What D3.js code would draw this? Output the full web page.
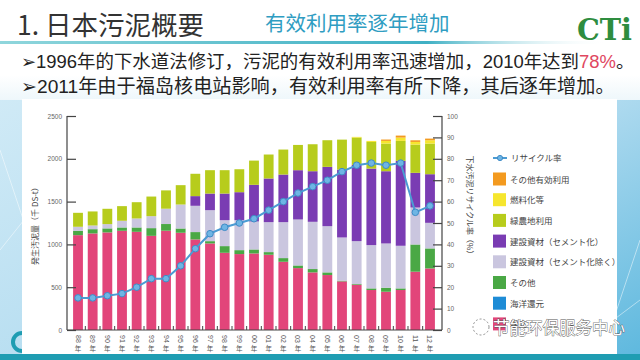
<!DOCTYPE html>
<html>
<head>
<meta charset="utf-8">
<script src="https://cdn.jsdelivr.net/npm/d3@7"></script>
<style>
  body { margin: 0; background: #fff; }
  svg { display: block; font-family: "Noto Sans CJK JP", "Noto Sans", sans-serif; }
</style>
</head>
<body>
<div id="chart"></div>
<script>
// years (bars) and stacked series, thousand DS-t
var years = ["88","89","90","91","92","93","94","95","96","97","98","99","00","01","02","03","04","05","06","07","08","09","10","11","12"];

var landfill    = [1108,1128,1140,1159,1147,1100,1160,1136,1058,1011,902,887,894,879,797,723,673,642,568,529,467,447,467,681,719];
var ocean       = [0,0,0,0,0,0,0,0,0,0,0,0,0,0,0,0,0,0,0,0,0,0,0,0,0];
var otherDisp   = [51,50,47,39,51,90,78,50,86,27,78,46,47,31,43,31,39,31,8,8,19,47,19,318,234];
var buildNoCem  = [47,43,50,78,105,140,179,280,307,362,303,350,327,350,420,537,552,540,505,501,506,517,498,432,299];
var buildCement = [0,0,0,0,0,0,0,0,113,194,311,327,428,510,556,576,591,693,793,891,894,844,992,405,568];
var greenAgri   = [163,164,179,171,190,229,214,226,261,273,273,268,283,280,292,295,315,311,350,319,311,323,233,330,358];
var fuel        = [0,0,0,0,0,0,0,0,0,0,0,0,0,0,0,0,0,0,0,8,12,31,39,31,39];
var otherUse    = [0,0,0,0,0,0,0,0,0,0,0,0,0,0,0,0,0,0,0,0,0,16,23,19,19];

// recycle rate (%)
var recycleRate = [15,15,16,17,20,24,24,30,38,45,48,50,52,56,60,64,67,70,74,77,78,77,78,55,58];

var leftTicks = [0,500,1000,1500,2000,2500];
var rightTicks = [0,10,20,30,40,50,60,70,80,90,100];

var seriesKeys = ["landfill","ocean","otherDisp","buildNoCem","buildCement","greenAgri","fuel","otherUse"];
var seriesData = {landfill:landfill, ocean:ocean, otherDisp:otherDisp, buildNoCem:buildNoCem,
  buildCement:buildCement, greenAgri:greenAgri, fuel:fuel, otherUse:otherUse};
var colors = {landfill:"#e2457a", ocean:"#1e8cd6", otherDisp:"#4aa845", buildNoCem:"#cac6df",
  buildCement:"#7a3cb3", greenAgri:"#b7cc1c", fuel:"#f6e62e", otherUse:"#f39a1f"};

var legendItems = [
  {key:"otherUse", label:"その他有効利用"},
  {key:"fuel", label:"燃料化等"},
  {key:"greenAgri", label:"緑農地利用"},
  {key:"buildCement", label:"建設資材（セメント化）"},
  {key:"buildNoCem", label:"建設資材（セメント化除く）"},
  {key:"otherDisp", label:"その他"},
  {key:"ocean", label:"海洋還元"},
  {key:"landfill", label:"埋立"}
];

var table = years.map(function(y, i) {
  var row = {year: y, rate: recycleRate[i]};
  seriesKeys.forEach(function(k) { row[k] = seriesData[k][i]; });
  return row;
});

var svg = d3.select("#chart").append("svg")
  .attr("width", 640).attr("height", 360);

var defs = svg.append("defs");
var bg = defs.append("linearGradient").attr("id", "bg").attr("x1", 0).attr("y1", 0).attr("x2", 1).attr("y2", 1);
bg.append("stop").attr("offset", "0%").attr("stop-color", "#d8eef8");
bg.append("stop").attr("offset", "60%").attr("stop-color", "#b3dcf0");
bg.append("stop").attr("offset", "100%").attr("stop-color", "#5db8de");
var topLine = defs.append("linearGradient").attr("id", "topline");
topLine.append("stop").attr("offset", "0%").attr("stop-color", "#8fd6dc");
topLine.append("stop").attr("offset", "70%").attr("stop-color", "#3fb0c4");
topLine.append("stop").attr("offset", "100%").attr("stop-color", "#ffffff").attr("stop-opacity", 0);
var topFade = defs.append("linearGradient").attr("id", "topfade").attr("x1", 0).attr("y1", 0).attr("x2", 0).attr("y2", 1);
topFade.append("stop").attr("offset", "0%").attr("stop-color", "#ffffff");
topFade.append("stop").attr("offset", "75%").attr("stop-color", "#ffffff");
topFade.append("stop").attr("offset", "100%").attr("stop-color", "#eef7fb");

// slide background
svg.append("rect").attr("width", 640).attr("height", 360).attr("fill", "url(#bg)");
svg.append("rect").attr("width", 640).attr("height", 100).attr("fill", "url(#topfade)");
[[0,150,70,360],[0,250,40,200],[600,360,640,240],[560,360,640,300]].forEach(function(l) {
  svg.append("line").attr("x1", l[0]).attr("y1", l[1]).attr("x2", l[2]).attr("y2", l[3])
    .attr("stroke", "#ffffff").attr("stroke-opacity", 0.6).attr("stroke-width", 0.8);
});
svg.append("rect").attr("x", 0).attr("y", 354).attr("width", 640).attr("height", 6).attr("fill", "#1f9db2");
svg.append("rect").attr("x", 0).attr("y", 41).attr("width", 610).attr("height", 3).attr("fill", "url(#topline)");
// corner arc of the slide logo, bottom left
svg.append("path").attr("d", "M22,333 A9,9 0 1,0 22,351")
  .attr("fill", "none").attr("stroke", "#1f9db2").attr("stroke-width", 4);

// chart panel
svg.append("rect").attr("x", 22).attr("y", 99).attr("width", 595).attr("height", 255).attr("fill", "#ffffff");

// title
svg.append("text").attr("x", 17).attr("y", 35)
  .style("font-family", "'Noto Sans CJK SC', sans-serif")
  .style("font-size", "26.5px").attr("fill", "#333").text("1. 日本污泥概要");
svg.append("text").attr("x", 265).attr("y", 31)
  .style("font-family", "'Noto Sans CJK SC', sans-serif")
  .style("font-size", "20.5px").attr("fill", "#2f9dc2").text("有效利用率逐年增加");

// logo
svg.append("text").attr("x", 577).attr("y", 40)
  .attr("textLength", 55).attr("lengthAdjust", "spacingAndGlyphs")
  .style("font-family", "'DejaVu Serif', serif").style("font-weight", "bold")
  .style("font-size", "29px").attr("fill", "#2e8d3f").text("CTi");

// bullet lines, sized to the reference widths
function fitWidth(t, w) {
  var len = t.node().getComputedTextLength();
  t.style("font-size", (17 * w / len) + "px");
}
var bulletFont = "'Liberation Sans', 'Noto Sans CJK SC', sans-serif";
var b1 = svg.append("text").attr("x", 21).attr("y", 67.5)
  .style("font-family", bulletFont).style("font-size", "17px").attr("fill", "#222");
b1.append("tspan").text("➢1996年的下水道法修订，污泥的有效利用率迅速增加，2010年达到");
b1.append("tspan").attr("fill", "#e0475f").text("78%");
b1.append("tspan").text("。");
fitWidth(b1, 614);
var b2 = svg.append("text").attr("x", 21).attr("y", 92.5)
  .style("font-family", bulletFont).style("font-size", "17px").attr("fill", "#222")
  .text("➢2011年由于福岛核电站影响，有效利用率有所下降，其后逐年增加。");
fitWidth(b2, 594);

// scales
var x = d3.scaleBand().domain(years).range([70.67, 437.33]).paddingInner(0.33).paddingOuter(0.165);
var y = d3.scaleLinear().domain([0, 2500]).range([330, 116]);
var yr = d3.scaleLinear().domain([0, 100]).range([330, 116]);

var stack = d3.stack().keys(seriesKeys);
var layers = stack(table);

var g = svg.append("g");
g.selectAll("g.layer").data(layers).enter().append("g")
  .attr("fill", function(d) { return colors[d.key]; })
  .selectAll("rect").data(function(d) { return d; }).enter().append("rect")
  .attr("x", function(d) { return x(d.data.year); })
  .attr("width", x.bandwidth())
  .attr("y", function(d) { return y(d[1]); })
  .attr("height", function(d) { return y(d[0]) - y(d[1]); });

// axes
var axisColor = "#444";
var leftAxis = d3.axisLeft(y).tickValues(leftTicks).tickFormat(d3.format("d")).tickSize(-9).tickPadding(5);
var la = svg.append("g").attr("transform", "translate(67,0)").call(leftAxis);
var rightAxis = d3.axisRight(yr).tickValues(rightTicks).tickFormat(d3.format("d")).tickSize(-9).tickPadding(5);
var ra = svg.append("g").attr("transform", "translate(442,0)").call(rightAxis);
[la, ra].forEach(function(a) {
  a.select(".domain").attr("stroke", axisColor).attr("stroke-width", 1.2);
  a.selectAll(".tick line").attr("stroke", axisColor).attr("stroke-width", 1.2);
  a.selectAll(".tick text").attr("fill", "#666").style("font-size", "6.5px").style("font-family", "'Liberation Sans', sans-serif");
});
la.select(".domain").attr("d", "M0,116V330");
ra.select(".domain").attr("d", "M0,116V330");

// bottom axis with boundary ticks
svg.append("line").attr("x1", 67).attr("x2", 442).attr("y1", 330).attr("y2", 330)
  .attr("stroke", axisColor).attr("stroke-width", 1.2);
svg.append("g").selectAll("line").data(years.slice(1)).enter().append("line")
  .attr("x1", function(d) { return x(d) - x.step() * x.paddingInner() / 2; })
  .attr("x2", function(d) { return x(d) - x.step() * x.paddingInner() / 2; })
  .attr("y1", 330).attr("y2", 326)
  .attr("stroke", axisColor).attr("stroke-width", 1);

var xl = svg.append("g").selectAll("g").data(years).enter().append("g")
  .attr("transform", function(d) { return "translate(" + (x(d) + x.bandwidth() / 2) + ",0)"; });
xl.append("text").attr("transform", "translate(-2.5,335) rotate(90)")
  .style("font-family", "'Liberation Sans', sans-serif").style("font-size", "7px").attr("fill", "#555")
  .text(function(d) { return d; });
xl.append("text").attr("y", 351).attr("text-anchor", "middle")
  .style("font-size", "6.5px").attr("fill", "#555").text("年");

// axis titles
svg.append("text").attr("transform", "translate(38,224) rotate(-90)").attr("text-anchor", "middle")
  .style("font-size", "8px").attr("fill", "#444").text("発生汚泥量（千 DS-t）");
svg.append("text").attr("transform", "translate(467,207) rotate(90)").attr("text-anchor", "middle")
  .style("font-size", "8px").attr("fill", "#444").text("下水汚泥リサイクル率（%）");

// recycle rate line
var line = d3.line()
  .x(function(d) { return x(d.year) + x.bandwidth() / 2; })
  .y(function(d) { return yr(d.rate); });
svg.append("path").datum(table).attr("d", line)
  .attr("fill", "none").attr("stroke", "#4b9bd3").attr("stroke-width", 2);
svg.append("g").selectAll("circle").data(table).enter().append("circle")
  .attr("cx", function(d) { return x(d.year) + x.bandwidth() / 2; })
  .attr("cy", function(d) { return yr(d.rate); })
  .attr("r", 3.3).attr("fill", "#6eb5e4").attr("stroke", "#3f8bc6").attr("stroke-width", 1);

// legend
var lg = svg.append("g").attr("transform", "translate(493,0)");
lg.append("line").attr("x1", 0).attr("x2", 14).attr("y1", 158).attr("y2", 158)
  .attr("stroke", "#4b9bd3").attr("stroke-width", 2);
lg.append("circle").attr("cx", 7).attr("cy", 158).attr("r", 2.6)
  .attr("fill", "#6eb5e4").attr("stroke", "#3f8bc6");
lg.append("text").attr("x", 18).attr("y", 161).style("font-size", "8.5px").attr("fill", "#444").text("リサイクル率");
var li = lg.selectAll("g.item").data(legendItems).enter().append("g")
  .attr("transform", function(d, i) { return "translate(0," + (172.5 + i * 20.7) + ")"; });
li.append("rect").attr("width", 13).attr("height", 13).attr("fill", function(d) { return colors[d.key]; });
li.append("text").attr("x", 17).attr("y", 10).style("font-size", "8.5px").attr("fill", "#444")
  .text(function(d) { return d.label; });

// watermark (sits over the last legend label, as in the source image)
var wm = svg.append("g").attr("transform", "translate(481,327)");
wm.append("circle").attr("r", 8).attr("fill", "none").attr("stroke", "#777")
  .attr("stroke-dasharray", "2,2").attr("stroke-width", 0.8);
wm.append("text").attr("x", 12).attr("y", 7)
  .style("font-family", "'Noto Sans CJK SC', sans-serif").style("font-size", "16.5px")
  .attr("fill", "#ffffff").attr("stroke", "#555").attr("stroke-width", 0.8)
  .attr("paint-order", "stroke").text("节能环保服务中心");
</script>
</body>
</html>
